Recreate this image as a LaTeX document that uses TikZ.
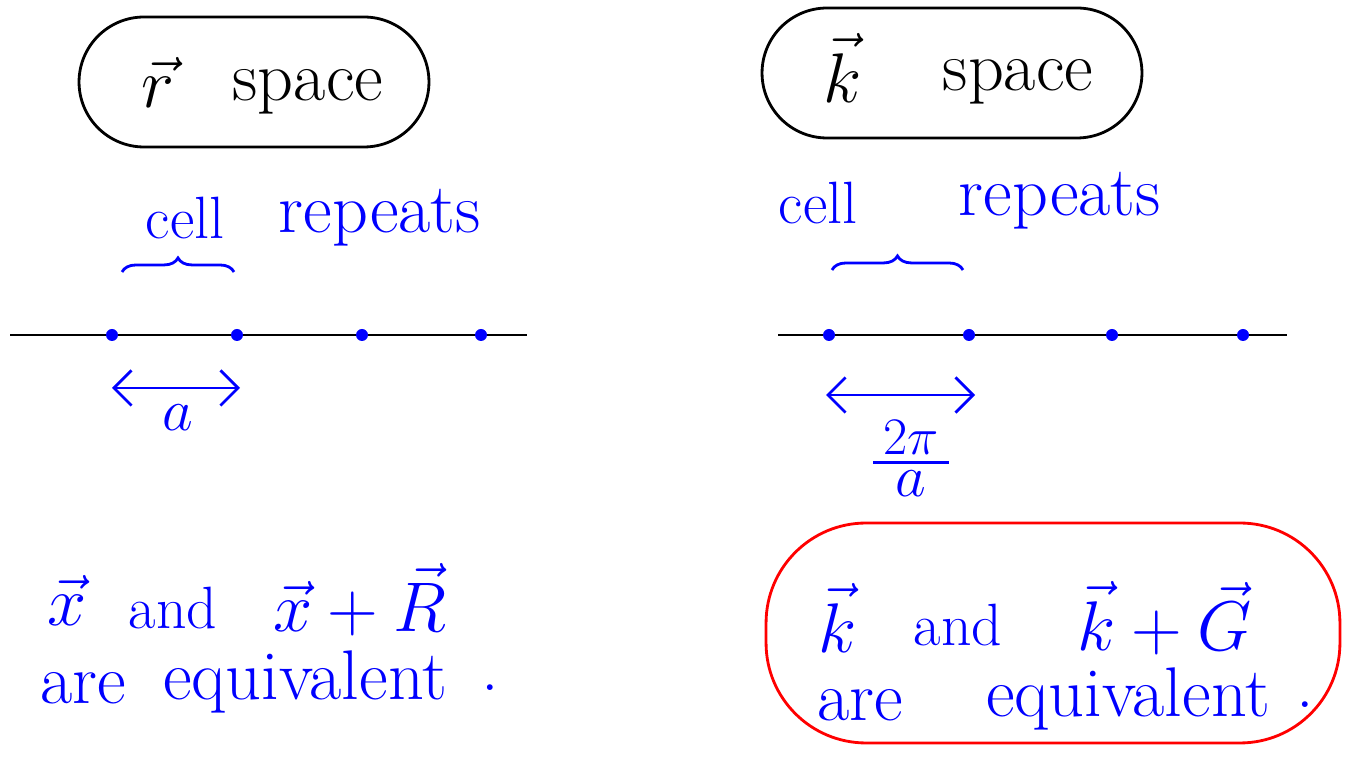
\documentclass[tikz,border=0pt]{standalone}
\usepackage{fix-cm}
\usetikzlibrary{decorations.pathreplacing,arrows.meta}
\begin{document}
\begin{tikzpicture}[x=0.02cm, y=-0.02cm, line width=1.6pt,
    every node/.style={font=\fontsize{34}{40}\selectfont},
    ink/.style={text=blue},
    big/.style={font=\fontsize{40}{44}\selectfont},
    dot/.style={circle, fill=blue, inner sep=0pt, minimum size=0.24cm},
    frame/.style={draw, rounded corners=1.3cm, minimum width=7cm, minimum height=2.6cm}]
\useasboundingbox (0,0) rectangle (1350,759);

% r space (left)
\node [frame] (rhead) at (254,82) {};
\node [big] (rvec) at (158,82) {$\vec r$};
\node [big] (rword) at (308,92) {space};
\node [ink] (rcell) at (185,218) {cell};
\node [ink, big] (rrep) at (380,218) {repeats};
\draw [blue, decorate, decoration={brace, amplitude=8pt}] (122,272) -- (234,272);

\coordinate (rl) at (10,335);
\coordinate (rr) at (527,335);
\draw (rl) -- (rr);
\node [dot] (r1) at (112,335) {};
\node [dot] (r2) at (237,335) {};
\node [dot] (r3) at (362,335) {};
\node [dot] (r4) at (481,335) {};
\coordinate (ra) at (112,388);
\coordinate (rb) at (240,388);
\draw [blue, {Straight Barb[length=10pt]}-{Straight Barb[length=10pt]}] (ra) -- (rb);
\node [ink] (rlen) at (178,418) {$a$};

\node [ink, big] (rx) at (67,600) {$\vec x$};
\node [ink] (rand) at (173,608) {and};
\node [ink, big] (rsum) at (360,600) {$\vec x + \vec R$};
\node [ink, big] (rare) at (83,688) {are};
\node [ink, big] (requiv) at (305,682) {equivalent};
\node [ink, big] (rdot) at (490,688) {.};

% k space (right)
\node [frame, minimum width=7.6cm] (khead) at (952,73) {};
\node [big] (kvec) at (843,68) {$\vec k$};
\node [big] (kword) at (1018,82) {space};
\node [ink] (kcell) at (818,203) {cell};
\node [ink, big] (krep) at (1060,201) {repeats};
\draw [blue, decorate, decoration={brace, amplitude=8pt}] (832,270) -- (963,270);

\coordinate (kl) at (778,335);
\coordinate (kr) at (1287,335);
\draw (kl) -- (kr);
\node [dot] (k1) at (829,335) {};
\node [dot] (k2) at (969,335) {};
\node [dot] (k3) at (1112,335) {};
\node [dot] (k4) at (1243,335) {};
\coordinate (ka) at (826,395);
\coordinate (kb) at (975,395);
\draw [blue, {Straight Barb[length=10pt]}-{Straight Barb[length=10pt]}] (ka) -- (kb);
\node [ink, font=\fontsize{30}{34}\selectfont, minimum width=1.46cm] (knum) at (911,438) {$2\pi$};
\node [ink] (kden) at (911,484) {$a$};
\draw [blue] (knum.south west) -- (knum.south east);

\node [draw=red, rounded corners=2cm, minimum width=11.48cm, minimum height=4.4cm] (kbox) at (1053,633) {};
\node [ink, big] (kk) at (838,618) {$\vec k$};
\node [ink] (kand) at (958,625) {and};
\node [ink, big] (ksum) at (1165,618) {$\vec k + \vec G$};
\node [ink, big] (kare) at (860,705) {are};
\node [ink, big] (kequiv) at (1128,699) {equivalent};
\node [ink, big] (kdot) at (1305,705) {.};
\end{tikzpicture}
\end{document}
